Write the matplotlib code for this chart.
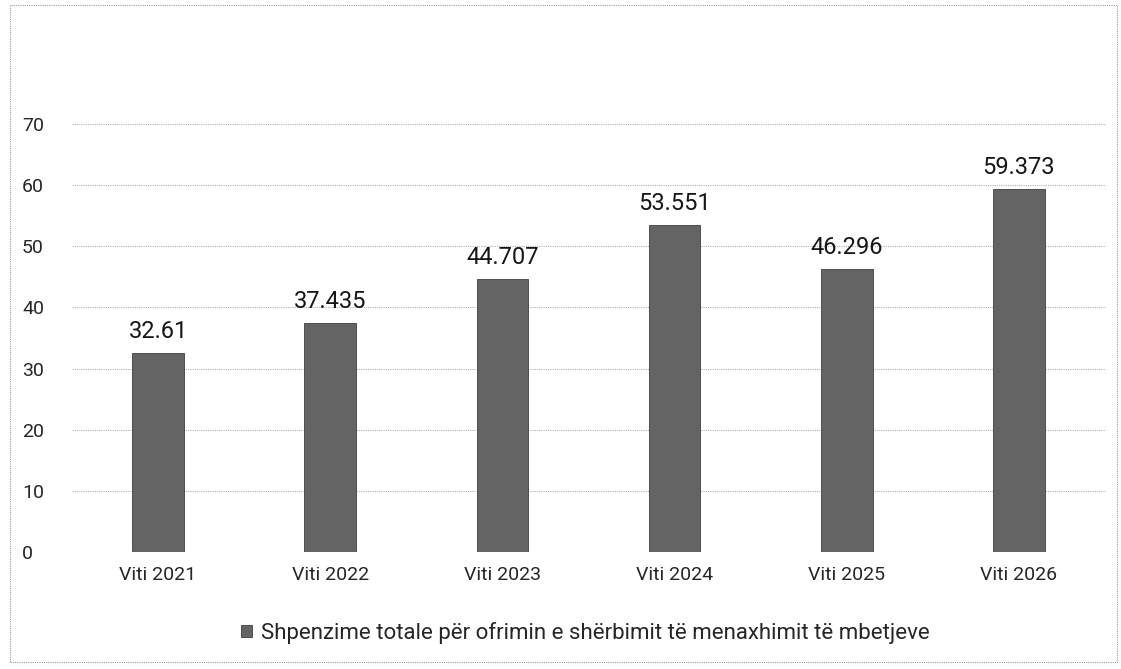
import matplotlib.pyplot as plt
from matplotlib.patches import Rectangle

# data
years = ['Viti 2021', 'Viti 2022', 'Viti 2023', 'Viti 2024', 'Viti 2025', 'Viti 2026']
values = [32.61, 37.435, 44.707, 53.551, 46.296, 59.373]
value_labels = ['32.61', '37.435', '44.707', '53.551', '46.296', '59.373']
series_name = 'Shpenzime totale për ofrimin e shërbimit të menaxhimit të mbetjeve'

plt.rcParams['font.family'] = ['Roboto', 'DejaVu Sans']
text_col = '#262626'
bar_col = '#646464'

fig = plt.figure(figsize=(11.21, 6.69), dpi=100)
ax = fig.add_axes([0.0642, 0.1749, 0.9215, 0.6397])

x = range(len(years))
bars = ax.bar(x, values, width=0.3, color=bar_col, edgecolor='#3f3f3f',
              linewidth=0.6, label=series_name, zorder=3)

for b, lab in zip(bars, value_labels):
    ax.annotate(lab, (b.get_x() + b.get_width() / 2, b.get_height()),
                xytext=(0, 7), textcoords='offset points',
                ha='center', va='bottom', fontsize=17, color='#161616')

ax.set_ylim(0, 70)
ax.set_xlim(-0.5, len(years) - 0.5)
ax.set_yticks(range(0, 71, 10))
ax.set_xticks(list(x))
ax.set_xticklabels(years)
ax.tick_params(axis='both', length=0, labelsize=14, colors=text_col)
ax.tick_params(axis='x', pad=10)
ax.tick_params(axis='y', pad=36)
for t in ax.get_yticklabels():
    t.set_horizontalalignment('left')
ax.grid(axis='y', color='#b0b0b0', linestyle=(0, (1, 1)), linewidth=0.8, zorder=0)
for s in ax.spines.values():
    s.set_visible(False)

fig.legend(handles=[bars], labels=[series_name], loc='center',
           bbox_to_anchor=(0.522, 0.054), frameon=False, fontsize=16,
           handlelength=0.5, handleheight=0.5, handletextpad=0.4,
           labelcolor=text_col)

# outer frame of the scanned chart box
fig.patches.append(Rectangle((0.009, 0.01), 0.987, 0.982, transform=fig.transFigure,
                             fill=False, edgecolor='#9a9a9a', linewidth=0.8,
                             linestyle=(0, (1, 1))))

fig.savefig('out.png', dpi=100)
